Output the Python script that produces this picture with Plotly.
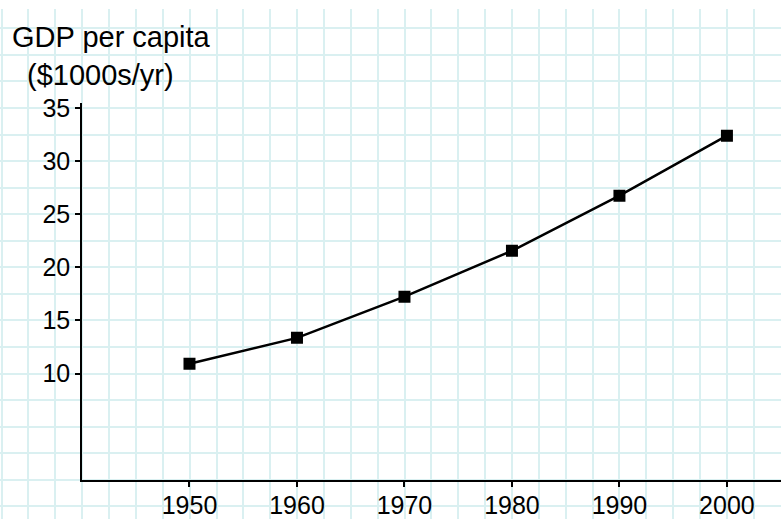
import plotly.graph_objects as go

years = [1950, 1960, 1970, 1980, 1990, 2000]
gdp = [10.93, 13.36, 17.24, 21.56, 26.74, 32.39]
x_ticks = [1950, 1960, 1970, 1980, 1990, 2000]
y_ticks = [10, 15, 20, 25, 30, 35]
title_lines = ["GDP per capita", "($1000s/yr)"]

W, H = 781, 519
GRID = "#daf0f1"
FONT = "Liberation Sans, Arial, Helvetica, sans-serif"

fig = go.Figure()
# invisible trace holding the background graph-paper grid axes
fig.add_trace(go.Scatter(x=[1950], y=[0], mode="markers", marker=dict(opacity=0),
                         hoverinfo="skip", showlegend=False, xaxis="x", yaxis="y"))
fig.add_trace(go.Scatter(x=years, y=gdp, mode="lines+markers",
                         line=dict(color="black", width=2.5),
                         marker=dict(symbol="square", size=12, color="black"),
                         showlegend=False, xaxis="x2", yaxis="y2"))

fig.update_layout(
    width=W, height=H,
    margin=dict(l=0, r=0, t=0, b=0, pad=0),
    paper_bgcolor="white", plot_bgcolor="rgba(0,0,0,0)",
    font=dict(family=FONT, color="black"),
    xaxis=dict(domain=[0, 1], range=[1932.35, 2005.03], dtick=2.5, tick0=1950,
               showgrid=True, gridcolor=GRID, gridwidth=1.5, zeroline=False,
               showline=False, showticklabels=False, ticks="", anchor="y"),
    yaxis=dict(domain=[0, 1], range=[-3.691, 44.32], dtick=2.5, tick0=0,
               showgrid=True, gridcolor=GRID, gridwidth=1.5, zeroline=False,
               showline=False, showticklabels=False, ticks="", anchor="x"),
    xaxis2=dict(domain=[82 / W, 1], range=[1940, 2005.03], anchor="y2",
                tickvals=x_ticks, ticks="outside", ticklen=5, tickwidth=1.5,
                tickcolor="black", showline=True, linecolor="black", linewidth=1.5,
                showgrid=False, zeroline=False, tickfont=dict(size=25),
                ticklabelstandoff=-3),
    yaxis2=dict(domain=[(H - 479.1) / H, (H - 95.3) / H], range=[0, 35.5], anchor="x2",
                tickvals=y_ticks, ticks="outside", ticklen=5, tickwidth=1.5,
                tickcolor="black", showline=True, linecolor="black", linewidth=1.5,
                showgrid=False, zeroline=False, tickfont=dict(size=25)),
    annotations=[
        dict(text=title_lines[0], xref="paper", yref="paper", x=10 / W, y=1 - 29 / H,
             xanchor="left", yanchor="middle", showarrow=False, font=dict(size=29)),
        dict(text=title_lines[1], xref="paper", yref="paper", x=25 / W, y=1 - 67 / H,
             xanchor="left", yanchor="middle", showarrow=False, font=dict(size=29)),
    ],
)

fig.write_html("out.html", config={"displayModeBar": False},
               post_script="document.body.style.margin='0px';document.body.style.overflow='hidden';")
